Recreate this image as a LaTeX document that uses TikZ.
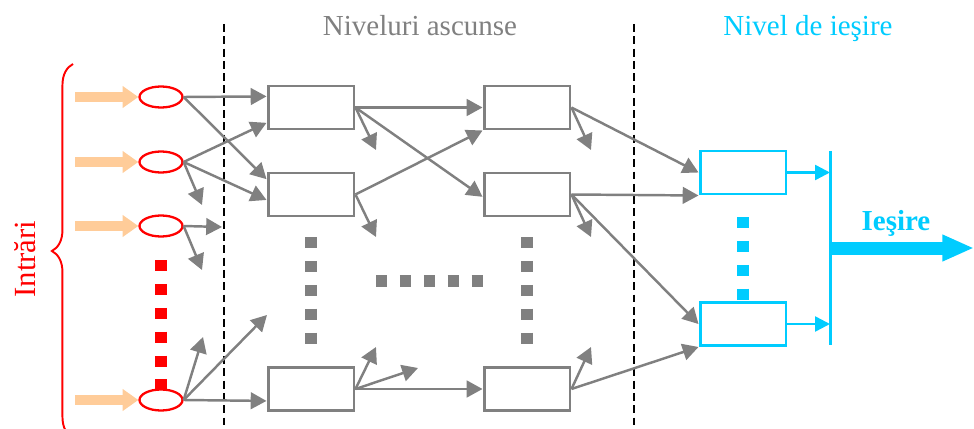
\documentclass[tikz,border=0pt]{standalone}
\usepackage{fontspec}
\setmainfont{Liberation Serif}
\usetikzlibrary{arrows.meta,shapes.geometric,decorations.pathreplacing}
\definecolor{netgray}{RGB}{128,128,128}
\definecolor{netcyan}{RGB}{0,204,255}
\definecolor{peach}{RGB}{255,204,153}
\tikzset{
  hid/.style={draw=netgray, line width=1.7pt, fill=white, minimum width=1.72cm, minimum height=0.86cm, inner sep=0pt},
  outbox/.style={hid, draw=netcyan},
  inp/.style={ellipse, draw=red, line width=1.3pt, fill=white, minimum width=0.86cm, minimum height=0.42cm, inner sep=0pt},
  link/.style={netgray, line width=1.4pt, -{Triangle[length=9pt,width=9.5pt]}},
  feed/.style={peach, line width=5.5pt, -{Triangle[length=9pt,width=12pt]}},
  clink/.style={netcyan, line width=1.4pt, -{Triangle[length=8.5pt,width=8.5pt]}},
  dots/.style={line width=6.5pt, dash pattern=on 6.5pt off 7.1pt},
  sep/.style={black, line width=0.8pt, dash pattern=on 4.5pt off 2.5pt},
  title/.style={font=\fontsize{16.5}{20}\selectfont, anchor=base},
}
\begin{document}
\begin{tikzpicture}[x=0.02cm, y=-0.02cm]
\useasboundingbox (0,0) rectangle (974,429);

% layer borders
\draw[sep] (224,24) -- (224,429);
\draw[sep] (634,24) -- (634,429);

% dots between the neurons
\draw[dots, red] (161,260) -- (161,400);
\draw[dots, netgray] (311,237) -- (311,346);
\draw[dots, netgray] (527,237) -- (527,346);
\draw[dots, netgray] (376,281) -- (485,281);
\draw[dots, netcyan] (743,217) -- (743,302);

% inputs
\foreach \k/\y in {1/97,2/162,3/226,4/400}{
  \coordinate (p\k) at (75,\y);
  \node[inp] (i\k) at (161,\y) {};
  \draw[feed] (p\k) -- (i\k.west);
}
\draw[red, line width=1.1pt, decorate, decoration={brace, amplitude=12pt}] (73,438) -- (73,64);
\node[red, font=\fontsize{17.5}{20}\selectfont, rotate=90, anchor=base] (intr) at (35,259) {Intrări};

% hidden layers
\foreach \k/\y in {1/107.5,2/194.5,3/389}{
  \node[hid] (h1\k) at (311,\y) {};
  \node[hid] (h2\k) at (527,\y) {};
}
\node[title, text=netgray] (hidtxt) at (420,36) {Niveluri ascunse};

% output layer
\node[outbox] (o1) at (743,172.5) {};
\node[outbox] (o2) at (743,324) {};
\node[title, text=netcyan] (outtxt) at (808,36) {Nivel de ieşire};

% free ends of the short arrows
\coordinate (s1) at (202,205);
\coordinate (s2) at (222,227);
\coordinate (s3) at (202,270);
\coordinate (s4) at (203,337);
\coordinate (s5) at (267,315);
\coordinate (s6) at (376,150);
\coordinate (s7) at (376,237);
\coordinate (s8) at (376,347);
\coordinate (s9) at (418,368);
\coordinate (s10) at (591,150);
\coordinate (s11) at (591,237);
\coordinate (s12) at (591,347);

\draw[link] (i1.east) -- (h11.166);
\draw[link] (i1.east) -- (h12.161);
\draw[link] (i2.east) -- (h11.199);
\draw[link] (i2.east) -- (h12.187);
\draw[link] (i2.east) -- (s1);
\draw[link] (i3.east) -- (s2);
\draw[link] (i3.east) -- (s3);
\draw[link] (i4.east) -- (s4);
\draw[link] (i4.east) -- (s5);
\draw[link] (i4.east) -- (h13.195);

\draw[link] (h11.east) -- (h21.west);
\draw[link] (h11.east) -- (s6);
\draw[link] (h11.east) -- (h22.183);
\draw[link] (h12.east) -- (h21.south west);
\draw[link] (h12.east) -- (s7);
\draw[link] (h13.east) -- (s8);
\draw[link] (h13.east) -- (s9);
\draw[link] (h13.east) -- (h23.west);

\draw[link] (h21.east) -- (s10);
\draw[link] (h21.east) -- (o1.west);
\draw[link] (h22.east) -- (o1.south west);
\draw[link] (h22.east) -- (s11);
\draw[link] (h22.east) -- (o2.west);
\draw[link] (h23.east) -- (s12);
\draw[link] (h23.east) -- (o2.south west);

% summing bar and exit
\coordinate (bt) at (830,151);
\coordinate (bb) at (830,345);
\coordinate (bm) at (830,248);
\coordinate (exit) at (974,248);
\draw[netcyan, line width=1.7pt] (bt) -- (bb);
\draw[clink] (o1.east) -- (o1.east -| bt);
\draw[clink] (o2.east) -- (o2.east -| bt);
\draw[netcyan, line width=7.4pt, -{Triangle[length=18pt,width=14pt]}] (bm) -- (exit);
\node[title, text=netcyan, font=\fontsize{16.5}{20}\selectfont\bfseries] (outlbl) at (896,230) {Ieşire};
\end{tikzpicture}
\end{document}
